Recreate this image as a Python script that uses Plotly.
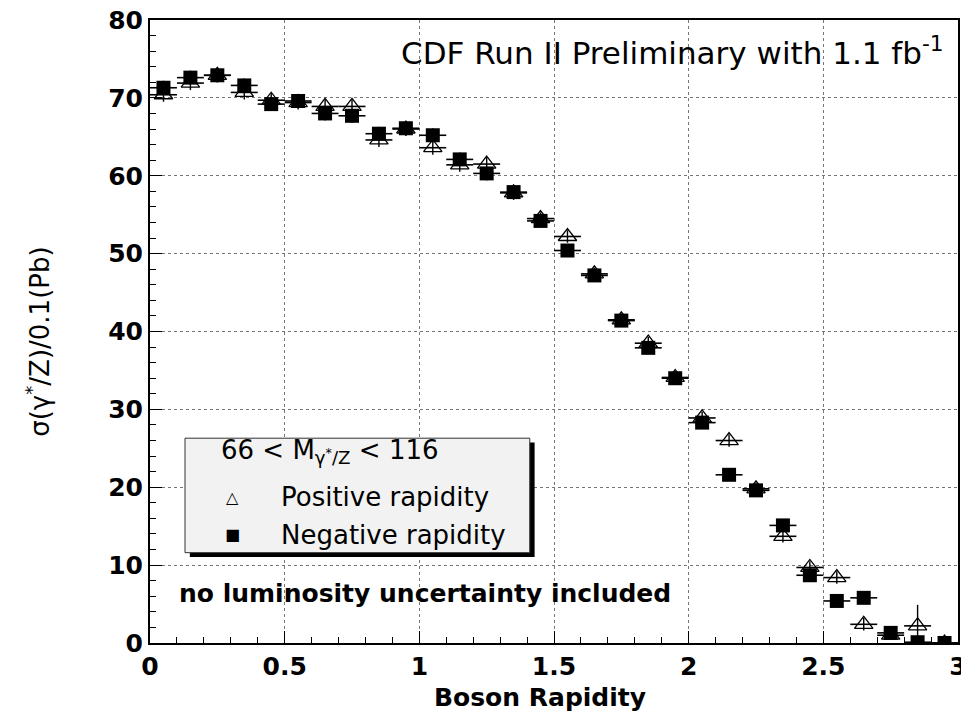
import plotly.graph_objects as go

# Boson rapidity bin centres (bin width 0.1)
rapidity = [0.05, 0.15, 0.25, 0.35, 0.45, 0.55, 0.65, 0.75, 0.85, 0.95,
            1.05, 1.15, 1.25, 1.35, 1.45, 1.55, 1.65, 1.75, 1.85, 1.95,
            2.05, 2.15, 2.25, 2.35, 2.45, 2.55, 2.65, 2.75, 2.85, 2.95]
half_width = [0.05] * len(rapidity)

# d(sigma)/dy per 0.1 bin, positive-rapidity side
sigma_pos = [70.4, 71.9, 72.9, 70.7, 69.7, 69.4, 68.9, 68.9, 64.6, 66.0,
             63.6, 61.4, 61.5, 57.8, 54.5, 52.2, 47.4, 41.5, 38.5, 34.1,
             28.9, 26.0, 19.8, 13.7, 9.7, 8.4, 2.4, 1.0, 2.2, 0.0]
err_pos = [0.9, 0.9, 0.9, 0.9, 0.9, 0.9, 0.9, 0.9, 0.9, 0.9,
           0.9, 0.9, 0.9, 0.9, 0.8, 0.8, 0.8, 0.8, 0.8, 0.8,
           0.8, 0.8, 0.8, 0.8, 0.8, 0.8, 0.8, 0.6, 2.7, 0.3]

# d(sigma)/dy per 0.1 bin, negative-rapidity side
sigma_neg = [71.3, 72.6, 72.9, 71.6, 69.2, 69.6, 68.0, 67.7, 65.4, 66.1,
             65.2, 62.1, 60.3, 57.9, 54.2, 50.4, 47.2, 41.4, 37.9, 34.0,
             28.3, 21.6, 19.6, 15.1, 8.7, 5.4, 5.8, 1.3, 0.1, 0.0]
err_neg = [0.9, 0.9, 0.9, 0.9, 0.9, 0.9, 0.9, 0.9, 0.9, 0.9,
           0.9, 0.9, 0.9, 0.9, 0.8, 0.8, 0.8, 0.8, 0.8, 0.8,
           0.8, 0.8, 0.8, 0.8, 0.8, 0.8, 0.8, 0.6, 0.3, 0.3]

x_ticks = [0, 0.5, 1, 1.5, 2, 2.5, 3]
x_tick_text = ["0", "0.5", "1", "1.5", "2", "2.5", "3"]
y_ticks = [0, 10, 20, 30, 40, 50, 60, 70, 80]

FONT = "DejaVu Sans, Verdana, sans-serif"

fig = go.Figure()

fig.add_trace(go.Scatter(
    x=rapidity, y=sigma_pos, mode="markers", name="Positive rapidity",
    marker=dict(symbol="triangle-up-open", size=16, color="black",
                line=dict(width=1.3, color="black")),
    error_x=dict(type="data", array=half_width, width=0, thickness=1.6, color="black"),
    error_y=dict(type="data", array=err_pos, width=0, thickness=1.4, color="black"),
    showlegend=False,
))
fig.add_trace(go.Scatter(
    x=rapidity, y=sigma_neg, mode="markers", name="Negative rapidity",
    marker=dict(symbol="square", size=14, color="black"),
    error_x=dict(type="data", array=half_width, width=0, thickness=1.6, color="black"),
    error_y=dict(type="data", array=err_neg, width=0, thickness=1.4, color="black"),
    showlegend=False,
))

# Legend box with drop shadow
box_x0, box_x1, box_y0, box_y1 = 0.13, 1.41, 11.6, 26.3
fig.add_shape(type="rect", xref="x", yref="y",
              x0=box_x0 + 0.018, x1=box_x1 + 0.018,
              y0=box_y0 - 0.55, y1=box_y1 - 0.55,
              fillcolor="black", line=dict(width=0), layer="above")
fig.add_shape(type="rect", xref="x", yref="y",
              x0=box_x0, x1=box_x1, y0=box_y0, y1=box_y1,
              fillcolor="#f2f2f2", line=dict(width=1, color="#333333"), layer="above")

annotations = [
    dict(x=0.255, y=24.6, xref="x", yref="y", xanchor="left", yanchor="middle",
         text="66 < M<sub>γ<sup>*</sup>/Z</sub> < 116", showarrow=False,
         font=dict(family=FONT, size=26, color="black")),
    dict(x=0.305, y=18.7, xref="x", yref="y", xanchor="center", yanchor="middle",
         text="△", showarrow=False, font=dict(family="DejaVu Sans", size=16, color="black")),
    dict(x=0.48, y=18.7, xref="x", yref="y", xanchor="left", yanchor="middle",
         text="Positive rapidity", showarrow=False,
         font=dict(family=FONT, size=26, color="black")),
    dict(x=0.305, y=13.9, xref="x", yref="y", xanchor="center", yanchor="middle",
         text="■", showarrow=False, font=dict(family="DejaVu Sans", size=16, color="black")),
    dict(x=0.48, y=13.9, xref="x", yref="y", xanchor="left", yanchor="middle",
         text="Negative rapidity", showarrow=False,
         font=dict(family=FONT, size=26, color="black")),
    dict(x=0.1, y=6.3, xref="x", yref="y", xanchor="left", yanchor="middle",
         text="no luminosity uncertainty included", showarrow=False,
         font=dict(family=FONT, size=25, color="black", weight="bold")),
    dict(x=2.955, y=76.0, xref="x", yref="y", xanchor="right", yanchor="middle",
         text="CDF Run II Preliminary with 1.1 fb<sup>-1</sup>", showarrow=False,
         font=dict(family=FONT, size=31, color="black")),
    # axis titles
    dict(x=0.483, y=-0.087, xref="paper", yref="paper", xanchor="center", yanchor="middle",
         text="Boson Rapidity", showarrow=False,
         font=dict(family=FONT, size=25, color="black", weight="bold")),
    dict(x=-0.139, y=0.483, xref="paper", yref="paper", xanchor="center", yanchor="middle",
         text="σ(γ<sup>*</sup>/Z)/0.1(Pb)", showarrow=False, textangle=-90,
         font=dict(family=FONT, size=26, color="black")),
]

fig.update_layout(
    width=961, height=727,
    margin=dict(l=150, r=3, t=20, b=84),
    paper_bgcolor="white", plot_bgcolor="white",
    font=dict(family=FONT, color="black"),
    annotations=annotations,
    xaxis=dict(
        range=[0, 3], tickvals=x_ticks, ticktext=x_tick_text,
        ticks="inside", ticklen=12, tickwidth=1, tickcolor="black",
        minor=dict(dtick=0.1, ticks="inside", ticklen=6, tickcolor="black", showgrid=False),
        showgrid=True, gridcolor="#777777", griddash="dot", gridwidth=1,
        showline=True, linecolor="black", linewidth=2, mirror=True,
        zeroline=False, ticklabeloverflow="allow", automargin=False,
        tickfont=dict(family=FONT, size=25, color="black", weight="bold"),
    ),
    yaxis=dict(
        range=[0, 80], tickvals=y_ticks,
        ticks="inside", ticklen=12, tickwidth=1, tickcolor="black",
        minor=dict(dtick=2, ticks="inside", ticklen=6, tickcolor="black", showgrid=False),
        showgrid=True, gridcolor="#777777", griddash="dot", gridwidth=1,
        showline=True, linecolor="black", linewidth=2, mirror=True,
        zeroline=False, automargin=False,
        tickfont=dict(family=FONT, size=25, color="black", weight="bold"),
    ),
)

fig.write_html("out.html")
